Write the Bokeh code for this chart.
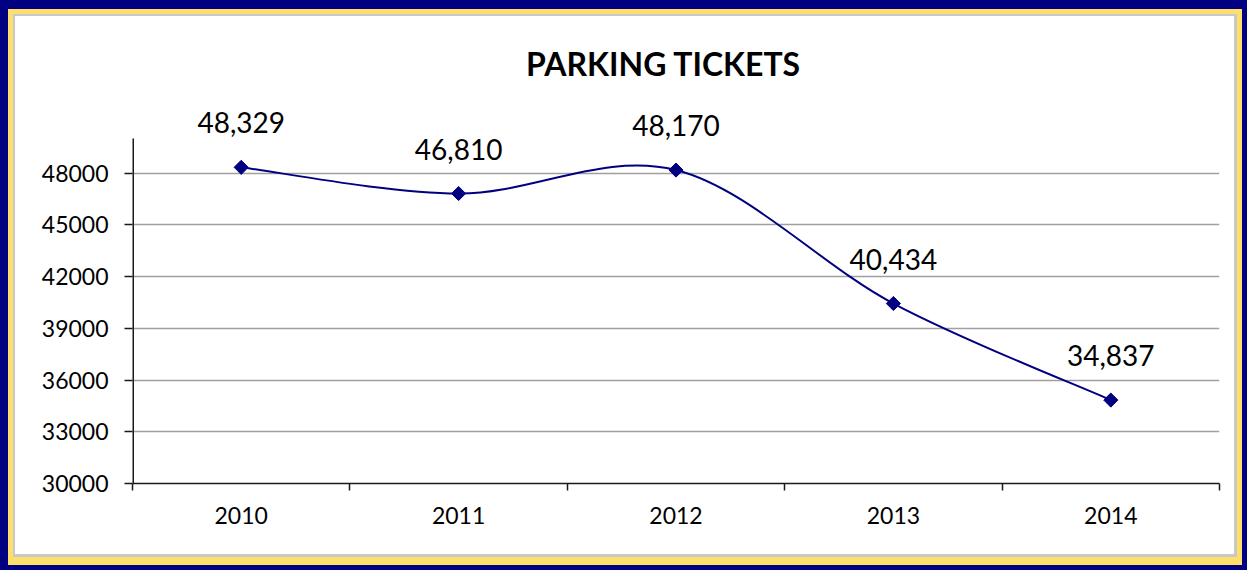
import numpy as np
from bokeh.plotting import figure
from bokeh.models import Range1d, FixedTicker, LabelSet, Label, ColumnDataSource
from bokeh.core.properties import value
from bokeh.embed import file_html
from bokeh.resources import INLINE

years = ["2010", "2011", "2012", "2013", "2014"]
tickets = [48329, 46810, 48170, 40434, 34837]
y_ticks = [30000, 33000, 36000, 39000, 42000, 45000, 48000]
y_min, y_max = 30000, 50000
title_text = "PARKING TICKETS"

W, H = 1247, 570
FONT = "Lato"

# layout in canvas pixels
F_LEFT, F_RIGHT, F_TOP, F_BOTTOM = 132, 1219, 18, 483
AXIS_TOP = 138  # pixel row where y_max sits
px_per_unit = (F_BOTTOM - AXIS_TOP) / (y_max - y_min)
y_top = y_max + (AXIS_TOP - F_TOP) / px_per_unit


def ring(color, left, top, right, bottom):
    return (f"inset {left}px 0 0 0 {color}, inset -{right}px 0 0 0 {color}, "
            f"inset 0 {top}px 0 0 {color}, inset 0 -{bottom}px 0 0 {color}")


p = figure(width=W, height=H, output_backend="svg", toolbar_location=None, title=None,
           x_range=Range1d(0, len(years)), y_range=Range1d(y_min, y_top),
           min_border_left=F_LEFT, min_border_right=W - F_RIGHT,
           min_border_top=F_TOP, min_border_bottom=H - F_BOTTOM)
p.outline_line_color = None
p.background_fill_color = "white"
p.border_fill_alpha = 0
p.styles = {
    "background-color": "white",
    "box-shadow": ", ".join([ring("#000080", 8, 9, 5, 5),
                             ring("#FFDF6B", 13, 14, 10, 13),
                             ring("#C8C8C8", 15, 16, 13, 16)]),
}

xs = [i + 0.5 for i in range(len(years))]

# axes
p.xgrid.visible = False
p.ygrid.grid_line_color = "#A0A0A0"
p.ygrid.grid_line_width = 1.5
p.yaxis.ticker = FixedTicker(ticks=y_ticks, minor_ticks=[])
p.xaxis.ticker = FixedTicker(ticks=xs, minor_ticks=list(range(len(years) + 1)))
p.xaxis.major_label_overrides = {x: y for x, y in zip(xs, years)}
for ax in (p.xaxis[0], p.yaxis[0]):
    ax.axis_line_color = "#1a1a1a"
    ax.axis_line_width = 1.5
    ax.major_label_text_font = FONT
    ax.major_label_text_font_size = "23px"
    ax.major_label_text_color = "black"
p.yaxis.axis_line_color = None
p.xaxis.major_tick_line_color = None
p.xaxis.minor_tick_line_color = "#1a1a1a"
p.xaxis.minor_tick_line_width = 1.5
p.xaxis.minor_tick_in = 0
p.xaxis.minor_tick_out = 7
p.xaxis.major_label_standoff = 16
p.yaxis.major_tick_line_color = "#1a1a1a"
p.yaxis.major_tick_line_width = 1.5
p.yaxis.major_tick_in = 0
p.yaxis.major_tick_out = 8
p.yaxis.major_label_standoff = 16
p.yaxis.minor_tick_line_color = None

# vertical axis line only up to the axis maximum (half is clipped at the frame edge)
p.segment(x0=[0], y0=[y_min], x1=[0], y1=[y_max], line_color="#1a1a1a", line_width=3)

# smooth line (Catmull-Rom bezier through the points)
px = np.array(xs, dtype=float)
py = np.array(tickets, dtype=float)
n = len(px)
x0, y0, x1, y1, cx0, cy0, cx1, cy1 = [], [], [], [], [], [], [], []
for i in range(n - 1):
    pm = max(i - 1, 0)
    pp = min(i + 2, n - 1)
    x0.append(px[i]); y0.append(py[i]); x1.append(px[i + 1]); y1.append(py[i + 1])
    cx0.append(px[i] + (px[i + 1] - px[pm]) / 6); cy0.append(py[i] + (py[i + 1] - py[pm]) / 6)
    cx1.append(px[i + 1] - (px[pp] - px[i]) / 6); cy1.append(py[i + 1] - (py[pp] - py[i]) / 6)
p.bezier(x0=x0, y0=y0, x1=x1, y1=y1, cx0=cx0, cy0=cy0, cx1=cx1, cy1=cy1,
         line_color="#000080", line_width=2)
p.scatter(xs, tickets, marker="square", angle=np.pi / 4, size=10,
          fill_color="#000080", line_color="#000080")

src = ColumnDataSource(dict(x=xs, y=tickets, t=[f"{v:,}" for v in tickets]))
p.add_layout(LabelSet(x="x", y="y", text="t", source=src, text_font=value(FONT),
                      text_font_size="28px", text_color="black", text_align="center",
                      text_baseline="alphabetic", y_offset=34))

# title (centre about 63 px from the top of the canvas)
title_y = y_max + (AXIS_TOP - 63) / px_per_unit
p.add_layout(Label(x=2.443, y=title_y, text=title_text, text_font=FONT,
                   text_font_size="32px", text_font_style="bold", text_color="black",
                   text_align="center", text_baseline="middle"))

open("out.html", "w").write(file_html(p, INLINE))
